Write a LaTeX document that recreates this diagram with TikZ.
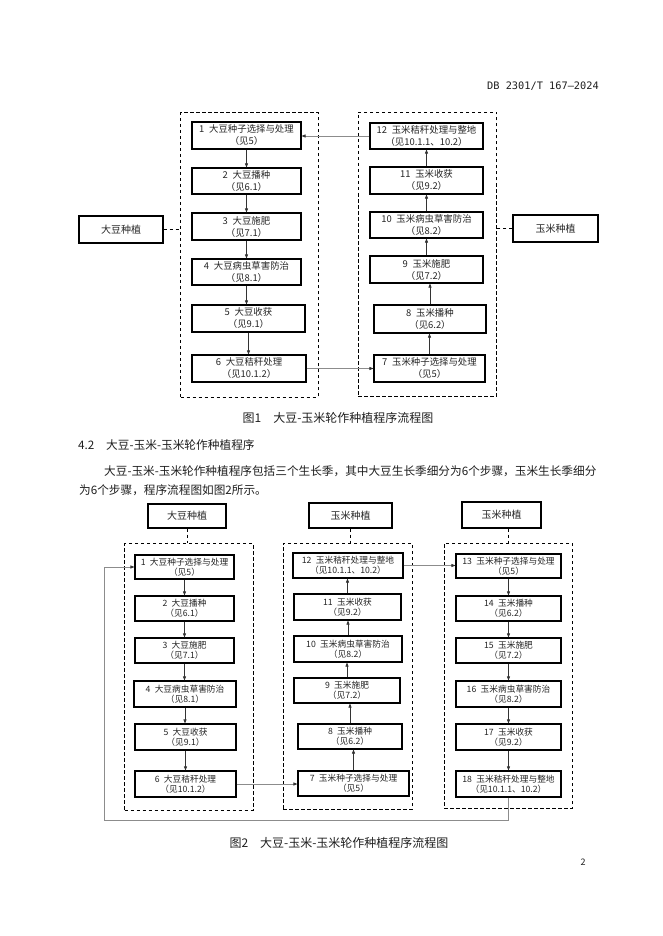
\documentclass[tikz,border=0pt]{standalone}
\usepackage{fontspec}
\setmainfont{Noto Sans CJK SC}
\newfontfamily\hdrfont{DejaVu Sans Mono}
\usetikzlibrary{arrows.meta}
\tikzset{
  stepbox/.style={draw=black, line width=1.1pt, inner sep=0pt, align=center, text=black!85},
  groupbox/.style={draw=black, line width=0.9pt, dash pattern=on 3.5pt off 2.5pt, inner sep=0pt},
  flow/.style={draw=black!80, line width=0.6pt, -{Triangle[length=4pt,width=3pt]}},
  crossflow/.style={draw=black!45, line width=0.7pt, -{Triangle[length=4pt,width=3pt,color=black!80]}},
  dashlink/.style={draw=black, line width=0.9pt, dash pattern=on 3.5pt off 2.5pt},
  figone/.style={font=\fontsize{9.4}{12}\selectfont},
  figtwo/.style={font=\fontsize{8.7}{10.3}\selectfont},
  labfont/.style={font=\fontsize{10}{12}\selectfont},
  txt/.style={text=black!88, inner sep=0pt},
}
% \mybox{name}{x1}{y1}{x2}{y2}{text}
\newcommand\mybox[6]{%
  \pgfmathsetmacro\bw{#4-#2}\pgfmathsetmacro\bh{#5-#3}%
  \pgfmathsetmacro\bx{(#2+#4)/2}\pgfmathsetmacro\by{(#3+#5)/2}%
  \node[stepbox, minimum width=\bw pt, minimum height=\bh pt] (#1) at (\bx,\by) {#6};}
\newcommand\mygroup[5]{%
  \pgfmathsetmacro\bw{#4-#2}\pgfmathsetmacro\bh{#5-#3}%
  \pgfmathsetmacro\bx{(#2+#4)/2}\pgfmathsetmacro\by{(#3+#5)/2}%
  \node[groupbox, minimum width=\bw pt, minimum height=\bh pt] (#1) at (\bx,\by) {};}
\newcommand\nsp{\hspace{0.5em}}
\begin{document}
\begin{tikzpicture}[x=1pt,y=-1pt]
\useasboundingbox[fill=white] (0,0) rectangle (662,936);

% header
\node[txt, anchor=east, font=\hdrfont\fontsize{10.3}{12}\selectfont] (hdr) at (599,86) {DB 2301/T 167—2024};

% ---------------- Figure 1 ----------------
\mygroup{C1}{180.7}{112.7}{318}{397}
\mygroup{C2}{358}{112}{496.5}{396}

\begin{scope}[every node/.append style={labfont}]
\mybox{L1}{79}{216}{163}{243}{大豆种植}
\mybox{L2}{513}{215}{598}{242}{玉米种植}
\end{scope}

\begin{scope}[every node/.append style={figone}]
\mybox{A1}{192}{122}{301}{149}{1\nsp 大豆种子选择与处理\\（见5）}
\mybox{A2}{192}{168}{301}{194}{2\nsp 大豆播种\\（见6.1）}
\mybox{A3}{192}{213}{301}{240}{3\nsp 大豆施肥\\（见7.1）}
\mybox{A4}{192}{259}{301}{285}{4\nsp 大豆病虫草害防治\\（见8.1）}
\mybox{A5}{192}{305}{305}{332}{5\nsp 大豆收获\\（见9.1）}
\mybox{A6}{192}{355}{306}{382}{6\nsp 大豆秸秆处理\\（见10.1.2）}
\mybox{A7}{374}{355}{485}{382}{7\nsp 玉米种子选择与处理\\（见5）}
\mybox{A8}{374}{305}{486}{333}{8\nsp 玉米播种\\（见6.2）}
\mybox{A9}{370}{256}{483}{283}{9\nsp 玉米施肥\\（见7.2）}
\mybox{A10}{370}{212}{483}{238}{10\nsp 玉米病虫草害防治\\（见8.2）}
\mybox{A11}{370}{167}{483}{194}{11\nsp 玉米收获\\（见9.2）}
\mybox{A12}{370}{123}{483}{149}{12\nsp 玉米秸秆处理与整地\\（见10.1.1、10.2）}
\end{scope}

\draw[dashlink] (L1.east) -- (L1.east -| C1.west);
\draw[dashlink] (L2.west) -- (L2.west -| C2.east);
\foreach \a/\b in {A1/A2,A2/A3,A3/A4,A4/A5,A5/A6}
  \draw[flow] (\a.south) -- (\a.south |- \b.north);
\foreach \a/\b in {A7/A8,A8/A9,A9/A10,A10/A11,A11/A12}
  \draw[flow] (\a.north) -- (\a.north |- \b.south);
\draw[crossflow] (A6.east) -- (A6.east -| A7.west);
\draw[crossflow] (A12.west) -- (A12.west -| A1.east);

\node[txt, font=\fontsize{12}{14}\selectfont] (cap1) at (338,418) {图1\hspace{1em}大豆-玉米轮作种植程序流程图};

% ---------------- Section text ----------------
\node[txt, anchor=west, font=\fontsize{11.7}{14}\selectfont] (h42) at (78,445) {4.2\hspace{1em}大豆-玉米-玉米轮作种植程序};
\node[txt, anchor=west, font=\fontsize{11.65}{14}\selectfont] (p1) at (104,471) {大豆-玉米-玉米轮作种植程序包括三个生长季，其中大豆生长季细分为6个步骤，玉米生长季细分};
\node[txt, anchor=west, font=\fontsize{11.65}{14}\selectfont] (p2) at (79,490) {为6个步骤，程序流程图如图2所示。};

% ---------------- Figure 2 ----------------
\mygroup{D1}{124.5}{543.5}{253}{810}
\mygroup{D2}{283}{543}{412}{809}
\mygroup{D3}{444}{543}{572}{808}

\begin{scope}[every node/.append style={labfont}]
\mybox{M1}{148}{504}{226}{528}{大豆种植}
\mybox{M2}{309}{503}{392}{528}{玉米种植}
\mybox{M3}{462}{502}{541}{528}{玉米种植}
\end{scope}

\begin{scope}[every node/.append style={figtwo}]
\mybox{F1}{135}{555}{234}{579}{1\nsp 大豆种子选择与处理\\（见5）}
\mybox{F2}{135}{596}{234}{621}{2\nsp 大豆播种\\（见6.1）}
\mybox{F3}{135}{638}{234}{663}{3\nsp 大豆施肥\\（见7.1）}
\mybox{F4}{134}{681}{236}{707}{4\nsp 大豆病虫草害防治\\（见8.1）}
\mybox{F5}{135}{724}{236}{750}{5\nsp 大豆收获\\（见9.1）}
\mybox{F6}{135}{771}{236}{797}{6\nsp 大豆秸秆处理\\（见10.1.2）}
\mybox{G7}{298}{771}{409}{796}{7\nsp 玉米种子选择与处理\\（见5）}
\mybox{G8}{298}{724}{402}{749}{8\nsp 玉米播种\\（见6.2）}
\mybox{G9}{294}{678}{400}{703}{9\nsp 玉米施肥\\（见7.2）}
\mybox{G10}{294}{636}{402}{662}{10\nsp 玉米病虫草害防治\\（见8.2）}
\mybox{G11}{294}{594}{401}{620}{11\nsp 玉米收获\\（见9.2）}
\mybox{G12}{293}{553}{403}{578}{12\nsp 玉米秸秆处理与整地\\（见10.1.1、10.2）}
\mybox{H13}{456}{554}{561}{578}{13\nsp 玉米种子选择与处理\\（见5）}
\mybox{H14}{456}{596}{561}{621}{14\nsp 玉米播种\\（见6.2）}
\mybox{H15}{456}{638}{561}{663}{15\nsp 玉米施肥\\（见7.2）}
\mybox{H16}{456}{681}{561}{707}{16\nsp 玉米病虫草害防治\\（见8.2）}
\mybox{H17}{456}{724}{561}{750}{17\nsp 玉米收获\\（见9.2）}
\mybox{H18}{456}{771}{561}{797}{18\nsp 玉米秸秆处理与整地\\（见10.1.1、10.2）}
\end{scope}

\draw[dashlink] (M1.south) -- (M1.south |- D1.north);
\draw[dashlink] (M2.south) -- (M2.south |- D2.north);
\draw[dashlink] (M3.south -| H13.north) -- (H13.north |- D3.north);

\foreach \a/\b in {F1/F2,F2/F3,F3/F4,F4/F5,F5/F6,H13/H14,H14/H15,H15/H16,H16/H17,H17/H18}
  \draw[flow] (\a.south) -- (\a.south |- \b.north);
\foreach \a/\b in {G7/G8,G8/G9,G9/G10,G10/G11,G11/G12}
  \draw[flow] (\a.north) -- (\a.north |- \b.south);
\draw[crossflow] (F6.east) -- (F6.east -| G7.west);
\draw[crossflow] (G12.east) -- (G12.east -| H13.west);
\coordinate (fbA) at (104,820);
\draw[crossflow] (H18.south) |- (fbA) |- (F1.west);

\node[txt, font=\fontsize{12}{14}\selectfont] (cap2) at (339,843) {图2\hspace{1em}大豆-玉米-玉米轮作种植程序流程图};

\node[txt, font=\fontsize{9}{11}\selectfont] (pg) at (583,862) {2};
\end{tikzpicture}
\end{document}
